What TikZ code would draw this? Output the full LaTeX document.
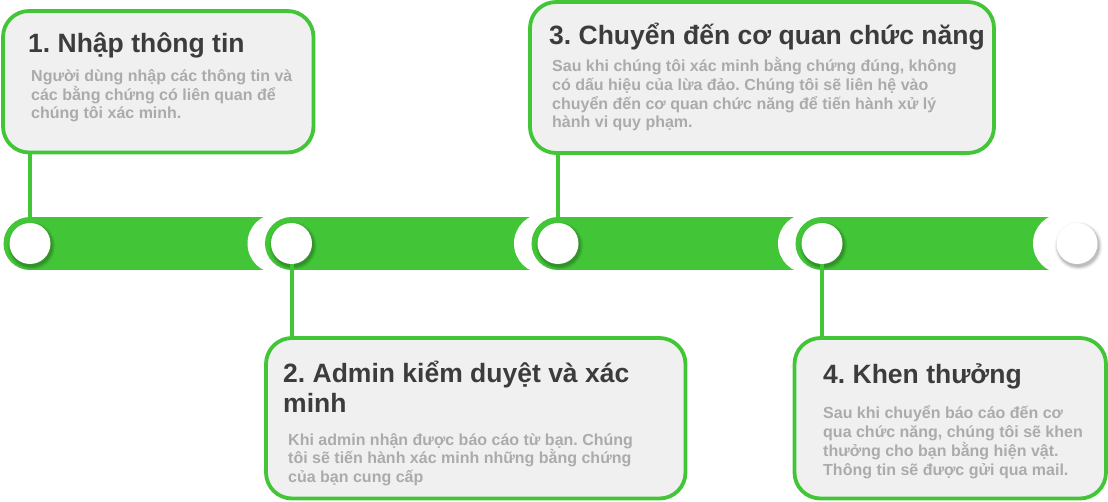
\documentclass[tikz,border=0pt]{standalone}
\usepackage{fontspec}
\setmainfont{Liberation Sans}
\usetikzlibrary{calc}
\definecolor{leaf}{HTML}{43C538}
\definecolor{cardfill}{HTML}{F0F0F0}
\definecolor{heading}{HTML}{3C3C3C}
\definecolor{note}{HTML}{ABABAB}
\frenchspacing

\begin{document}
\begin{tikzpicture}[x=1pt,y=-1pt,
  card/.style={draw=leaf, fill=cardfill, line width=3.8pt, rounded corners=26pt,
               inner sep=0pt, outer sep=0pt, anchor=north west},
  link/.style={draw=leaf, line width=4pt},
  ttl/.style={anchor=base west, inner sep=0pt, text=heading,
              font=\fontsize{26.5}{30}\selectfont\bfseries},
  txt/.style={anchor=base west, inner sep=0pt, text=note,
              font=\fontsize{16}{19}\selectfont\bfseries},
  dotnode/.style={circle, fill=white, minimum size=41pt, inner sep=0pt, outer sep=0pt},
]
\useasboundingbox (0,0) rectangle (1108,502);

% stop centres along the timeline bar
\coordinate (c1) at (30,243.5);
\coordinate (c2) at (291.5,243.5);
\coordinate (c3) at (558,243.5);
\coordinate (c4) at (822,243.5);
\coordinate (c5) at (1077,243.5);

% bar segments: each one has a rounded left cap and is cut by a white notch
\fill[leaf] (c1) circle (26.5pt);
\fill[leaf] ($(c1)+(0,-26.5)$) rectangle ($(c2)+(-14,26.5)$);
\fill[white] ($(c2)+(-14,0)$) circle (30pt);
\fill[leaf] (c2) circle (26.5pt);
\fill[leaf] ($(c2)+(0,-26.5)$) rectangle ($(c3)+(-14,26.5)$);
\fill[white] ($(c3)+(-14,0)$) circle (30pt);
\fill[leaf] (c3) circle (26.5pt);
\fill[leaf] ($(c3)+(0,-26.5)$) rectangle ($(c4)+(-14,26.5)$);
\fill[white] ($(c4)+(-14,0)$) circle (30pt);
\fill[leaf] (c4) circle (26.5pt);
\fill[leaf] ($(c4)+(0,-26.5)$) rectangle ($(c5)+(-14,26.5)$);
\fill[white] ($(c5)+(-14,0)$) circle (30pt);

% soft shadows under the white stops
\foreach \c in {c1,c2,c3,c4,c5}{
  \foreach \r/\o in {24/0.04,23/0.06,22/0.08,21/0.10}{
    \fill[black,opacity=\o] ($(\c)+(1.5,2.5)$) circle (\r pt);
  }
}

% white stops
\node[dotnode] (d1) at (c1) {};
\node[dotnode] (d2) at (c2) {};
\node[dotnode] (d3) at (c3) {};
\node[dotnode] (d4) at (c4) {};
\node[dotnode] (d5) at (c5) {};

% cards
\node[card, minimum width=310.5pt, minimum height=141.5pt] (b1) at (3,11) {};
\node[card, minimum width=419.5pt, minimum height=160.5pt] (b2) at (266,338) {};
\node[card, minimum width=464pt,   minimum height=151pt]   (b3) at (530,2) {};
\node[card, minimum width=311.5pt, minimum height=160.5pt] (b4) at (794.5,338) {};

% connectors between stops and cards
\draw[link] (d1.north) -- (b1.south -| d1);
\draw[link] (d2.south) -- (b2.north -| d2);
\draw[link] (d3.north) -- (b3.south -| d3);
\draw[link] (d4.south) -- (b4.north -| d4);

% card 1
\node[ttl] (t1) at (28,53) {1. Nhập thông tin};
\node[txt] (p1a) at (31,82) {Người dùng nhập các thông tin và};
\node[txt] (p1b) at (31,100.5) {các bằng chứng có liên quan để};
\node[txt] (p1c) at (31,119) {chúng tôi xác minh.};

% card 2
\node[ttl] (t2a) at (283,382) {2. Admin kiểm duyệt và xác};
\node[ttl] (t2b) at (283,412) {minh};
\node[txt] (p2a) at (288,445) {Khi admin nhận được báo cáo từ bạn. Chúng};
\node[txt] (p2b) at (288,463.5) {tôi sẽ tiến hành xác minh những bằng chứng};
\node[txt] (p2c) at (288,482) {của bạn cung cấp};

% card 3
\node[ttl] (t3) at (549,45) {3. Chuyển đến cơ quan chức năng};
\node[txt] (p3a) at (552,72) {Sau khi chúng tôi xác minh bằng chứng đúng, không};
\node[txt] (p3b) at (552,90.7) {có dấu hiệu của lừa đảo. Chúng tôi sẽ liên hệ vào};
\node[txt] (p3c) at (552,109.3) {chuyển đến cơ quan chức năng để tiến hành xử lý};
\node[txt] (p3d) at (552,128) {hành vi quy phạm.};

% card 4
\node[ttl] (t4) at (823,383) {4. Khen thưởng};
\node[txt] (p4a) at (823,418) {Sau khi chuyển báo cáo đến cơ};
\node[txt] (p4b) at (823,437) {qua chức năng, chúng tôi sẽ khen};
\node[txt] (p4c) at (823,456) {thưởng cho bạn bằng hiện vật.};
\node[txt] (p4d) at (823,475) {Thông tin sẽ được gửi qua mail.};
\end{tikzpicture}
\end{document}
